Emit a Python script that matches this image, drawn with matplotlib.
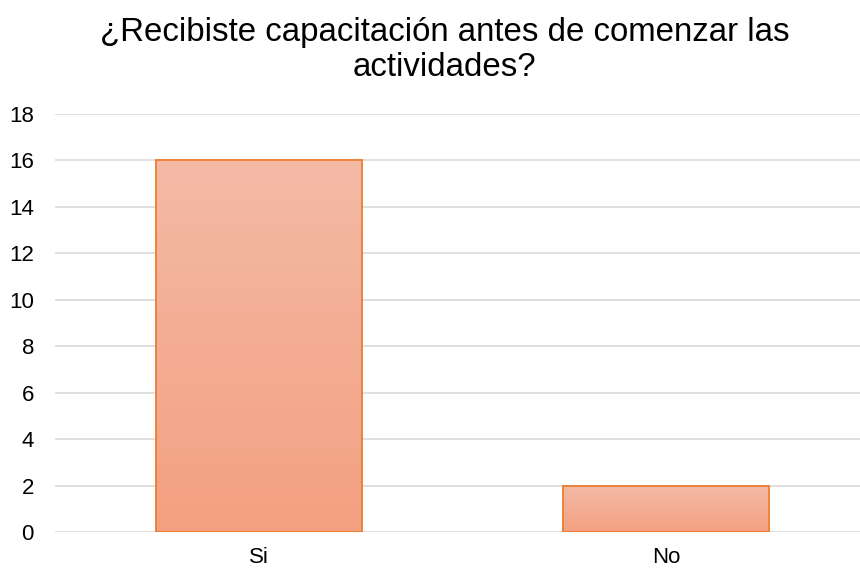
import matplotlib
matplotlib.use("Agg")
import matplotlib.pyplot as plt
import numpy as np
from matplotlib.colors import LinearSegmentedColormap

categories = ["Si", "No"]
values = [16, 2]
y_ticks = [0, 2, 4, 6, 8, 10, 12, 14, 16, 18]

plt.rcParams['font.family'] = ['Liberation Sans', 'DejaVu Sans']

fig = plt.figure(figsize=(8.6, 5.69), dpi=100)
ax = fig.add_axes([0.0645, 0.065, 0.947, 0.7346])

x = np.arange(len(categories))
bars = ax.bar(x, values, width=0.505, color='none', edgecolor='#ED7D31', linewidth=1.3, zorder=3)

# vertical gradient inside each bar, lighter at the top
grad = LinearSegmentedColormap.from_list('g', ['#F3A081', '#F4BAA6'])
for b in bars:
    x0, y0 = b.get_x(), b.get_y()
    w, h = b.get_width(), b.get_height()
    img = ax.imshow(np.linspace(0, 1, 256).reshape(-1, 1), cmap=grad, origin='lower',
                    extent=[x0, x0 + w, y0, y0 + h], aspect='auto', zorder=2)
    img.set_clip_path(b)

ax.set_xlim(-0.5, 1.5)
ax.set_ylim(0, 18)
ax.set_yticks(y_ticks)
ax.set_xticks(x)
ax.set_xticklabels(categories)
ax.tick_params(axis='both', length=0, labelsize=16, colors='#000000')
ax.tick_params(axis='y', pad=15.5)
ax.tick_params(axis='x', pad=10.5)
ax.yaxis.grid(True, color='#D9D9D9', linewidth=1.2, zorder=0)
ax.set_axisbelow(True)
for s in ax.spines.values():
    s.set_visible(False)

fig.text(0.517, 0.912, "¿Recibiste capacitación antes de comenzar las\nactividades?",
         ha='center', va='center', fontsize=23.8, linespacing=1.17)

fig.savefig("out.png", dpi=100)
